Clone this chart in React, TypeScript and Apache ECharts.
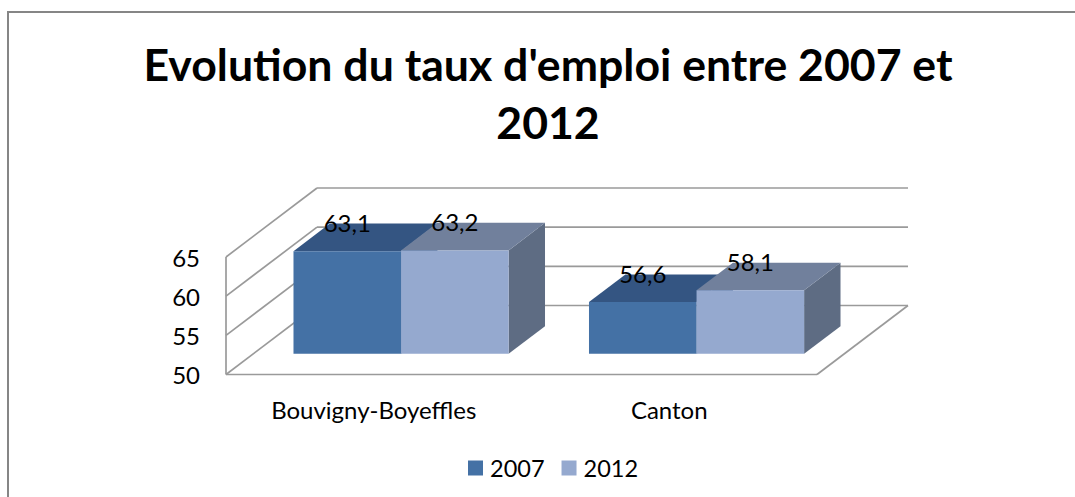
import React, { useEffect, useRef } from "react";
import * as echarts from "echarts";

const title = "Evolution du taux d'emploi entre 2007 et\n2012";
const categories = ["Bouvigny-Boyeffles", "Canton"];
const seriesNames = ["2007", "2012"];
const values2007 = [63.1, 56.6];
const values2012 = [63.2, 58.1];
const yTicks = [50, 55, 60, 65];

const FONT = "Lato";
const DEPTH_X = 91;
const DEPTH_Y = 69;
const BAR_FRONT = 0.3;
const BAR_BACK = 0.7;
const BAR_BAND = 0.364;
const LINE = "#9a9a9a";

const palette = [
  { front: "#4471A5", top: "#345582", side: "#3A5F8C" },
  { front: "#95A9CF", top: "#71809C", side: "#5E6C83" },
];

function wallItem(params: any, api: any) {
  const sys = params.coordSys;
  const v = api.value(0);
  const y = api.coord([0, v])[1];
  const x0 = sys.x;
  const x1 = sys.x + sys.width;
  const style = { stroke: LINE, lineWidth: 1.7, fill: "none" };
  const line = (a: number, b: number, c: number, d: number) => ({
    type: "line",
    shape: { x1: a, y1: b, x2: c, y2: d },
    style,
  });
  const children = [
    line(x0, y, x0 + DEPTH_X, y - DEPTH_Y),
    line(x0 + DEPTH_X, y - DEPTH_Y, x1 + DEPTH_X, y - DEPTH_Y),
  ];
  if (params.dataIndex === 0) {
    children.push(line(x0, y, x1, y));
    children.push(line(x1, y, x1 + DEPTH_X, y - DEPTH_Y));
    children.push(line(x0, y, x0, sys.y));
  }
  return { type: "group", children };
}

function barRenderer(seriesIndex: number) {
  return (_params: any, api: any) => {
    const cat = api.value(0);
    const val = api.value(1);
    const band = api.size([1, 0])[0];
    const w = band * BAR_BAND;
    const offX = DEPTH_X * BAR_FRONT;
    const offY = DEPTH_Y * BAR_FRONT;
    const dx = DEPTH_X * (BAR_BACK - BAR_FRONT);
    const dy = DEPTH_Y * (BAR_BACK - BAR_FRONT);
    const [cx, yTop0] = api.coord([cat, val]);
    const yBase0 = api.coord([cat, yTicks[0]])[1];
    const l = cx - w + w * seriesIndex + offX;
    const r = l + w;
    const t = yTop0 - offY;
    const b = yBase0 - offY;
    const c = palette[seriesIndex];
    return {
      type: "group",
      children: [
        {
          type: "polygon",
          shape: { points: [[r, t], [r + dx, t - dy], [r + dx, b - dy], [r, b]] },
          style: { fill: c.side },
        },
        {
          type: "polygon",
          shape: { points: [[l, t], [l + dx, t - dy], [r + dx, t - dy], [r, t]] },
          style: { fill: c.top },
        },
        { type: "rect", shape: { x: l, y: t, width: w, height: b - t }, style: { fill: c.front } },
        {
          type: "text",
          z2: 50,
          x: (l + r) / 2,
          y: t - dy - 1,
          style: {
            text: val.toFixed(1).replace(".", ","),
            fill: "#000",
            font: `24px ${FONT}`,
            align: "center",
            verticalAlign: "middle",
          },
        },
      ],
    };
  };
}

export default function App() {
  const ref = useRef<HTMLDivElement>(null);
  useEffect(() => {
    document.body.style.margin = "0";
    const chart = echarts.init(ref.current!, null, { renderer: "svg" });
    const makeBar = (i: number, vals: number[]) => ({
      type: "custom",
      name: seriesNames[i],
      coordinateSystem: "cartesian2d",
      clip: false,
      itemStyle: { color: palette[i].front },
      encode: { x: 0, y: 1 },
      data: vals.map((v, k) => [k, v]),
      renderItem: barRenderer(i),
      z: 3 + i,
    });
    chart.setOption({
      animation: false,
      backgroundColor: "#fff",
      title: {
        text: title,
        left: 543,
        top: 29,
        textAlign: "center",
        textStyle: { fontFamily: FONT, fontWeight: "bold", fontSize: 44.6, lineHeight: 58, color: "#000" },
      },
      graphic: [
        {
          type: "rect",
          silent: true,
          shape: { x: 8, y: 12, width: 1300, height: 700 },
          style: { fill: "none", stroke: "#868686", lineWidth: 2 },
        },
      ],
      legend: {
        data: seriesNames,
        left: 468,
        top: 456,
        padding: 0,
        icon: "rect",
        itemWidth: 15,
        itemHeight: 15,
        itemGap: 17,
        textStyle: { fontFamily: FONT, fontSize: 23.5, color: "#000", padding: [0, 0, 0, 2] },
      },
      grid: { left: 226, top: 257, width: 591, height: 117.5 },
      xAxis: {
        type: "category",
        data: categories,
        axisLine: { show: false },
        axisTick: { show: false },
        splitLine: { show: false },
        axisLabel: { fontFamily: FONT, fontSize: 24, color: "#000", margin: 23 },
      },
      yAxis: {
        type: "value",
        min: 50,
        max: 65,
        interval: 5,
        axisLine: { show: false },
        axisTick: { show: false },
        splitLine: { show: false },
        axisLabel: { fontFamily: FONT, fontSize: 24, color: "#000", margin: 26 },
      },
      series: [
        {
          type: "custom",
          name: "walls",
          coordinateSystem: "cartesian2d",
          clip: false,
          silent: true,
          encode: { y: 0 },
          data: yTicks.map((t) => [t]),
          renderItem: wallItem,
          z: 1,
        },
        makeBar(0, values2007),
        makeBar(1, values2012),
      ],
    });
    return () => chart.dispose();
  }, []);
  return <div ref={ref} style={{ width: 1075, height: 497 }} />;
}
